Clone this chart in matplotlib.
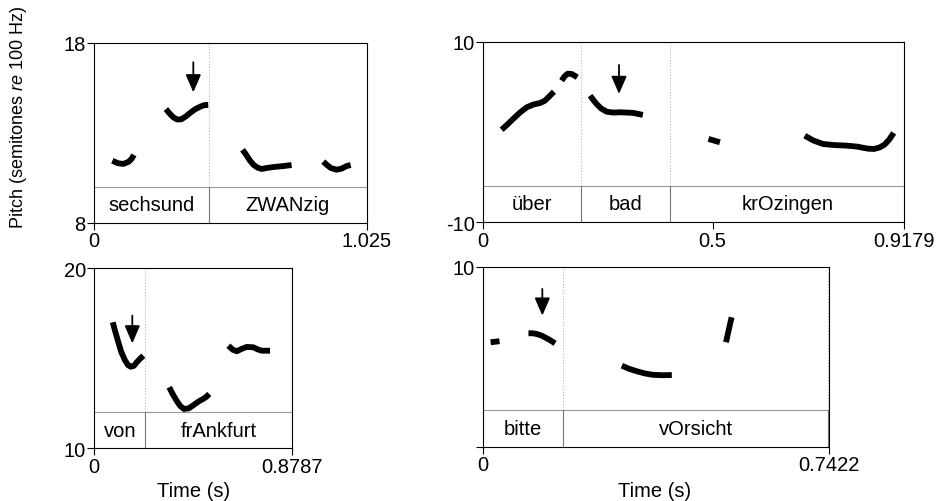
import matplotlib.pyplot as plt

plt.rcParams['font.family'] = ['Liberation Sans', 'DejaVu Sans']
plt.rcParams['mathtext.fontset'] = 'custom'
plt.rcParams['mathtext.rm'] = 'Liberation Sans'
plt.rcParams['mathtext.it'] = 'Liberation Sans:italic'

# panel 1: sechsund ZWANzig
p1_xmax = 1.025
p1_ylim = (8, 18)
p1_words = ['sechsund', 'ZWANzig']
p1_bounds = [0.432]
p1_t = [[0.069, 0.090, 0.110, 0.130, 0.142, 0.150],
        [0.270, 0.283, 0.297, 0.312, 0.328, 0.345, 0.362, 0.380, 0.400, 0.415, 0.429],
        [0.558, 0.572, 0.586, 0.600, 0.615, 0.630, 0.650, 0.680, 0.710, 0.742],
        [0.861, 0.875, 0.890, 0.911, 0.930, 0.948, 0.964]]
p1_f = [[11.46, 11.32, 11.28, 11.40, 11.58, 11.78],
        [14.33, 14.10, 13.88, 13.75, 13.76, 13.92, 14.13, 14.32, 14.47, 14.55, 14.56],
        [12.07, 11.78, 11.46, 11.22, 11.07, 11.00, 11.06, 11.12, 11.16, 11.22],
        [11.41, 11.22, 11.05, 10.96, 11.02, 11.16, 11.22]]
p1_arrow = (0.373, 16.93, 15.26)

# panel 2: über bad krOzingen
p2_xmax = 0.9179
p2_ylim = (-10, 10)
p2_words = ['über', 'bad', 'krOzingen']
p2_bounds = [0.2137, 0.4077]
p2_t = [[0.040, 0.052, 0.065, 0.080, 0.095, 0.110, 0.124, 0.134, 0.142, 0.154],
        [0.171, 0.177, 0.184, 0.193, 0.205],
        [0.233, 0.240, 0.247, 0.257, 0.269, 0.283, 0.298, 0.312, 0.327, 0.348],
        [0.491, 0.516],
        [0.701, 0.720, 0.741, 0.765, 0.792, 0.815, 0.839, 0.852, 0.864, 0.875, 0.885, 0.895]]
p2_f = [[0.25, 0.80, 1.44, 2.15, 2.74, 3.05, 3.21, 3.45, 3.84, 4.46],
        [5.68, 6.15, 6.45, 6.42, 6.06],
        [4.02, 3.55, 3.10, 2.60, 2.25, 2.15, 2.18, 2.15, 2.11, 1.89],
        [-0.77, -1.14],
        [-0.41, -0.95, -1.33, -1.45, -1.51, -1.62, -1.85, -1.88, -1.72, -1.40, -0.85, -0.10]]
p2_arrow = (0.296, 7.42, 4.21)

# panel 3: von frAnkfurt
p3_xmax = 0.8787
p3_ylim = (10, 20)
p3_words = ['von', 'frAnkfurt']
p3_bounds = [0.2267]
p3_t = [[0.082, 0.094, 0.107, 0.120, 0.136, 0.150, 0.162, 0.176, 0.189, 0.204, 0.218],
        [0.333, 0.350, 0.366, 0.382, 0.399, 0.420, 0.448, 0.466, 0.484, 0.498, 0.511],
        [0.596, 0.615, 0.633, 0.655, 0.677, 0.707, 0.725, 0.744, 0.781]]
p3_f = [[17.0, 16.45, 15.89, 15.35, 14.9, 14.62, 14.53, 14.58, 14.78, 14.98, 15.14],
        [13.39, 12.98, 12.64, 12.35, 12.18, 12.22, 12.46, 12.62, 12.74, 12.86, 13.02],
        [15.70, 15.48, 15.39, 15.52, 15.63, 15.61, 15.50, 15.42, 15.42]]
p3_arrow = (0.169, 17.37, 15.83)

# panel 4: bitte vOrsicht
p4_xmax = 0.7422
p4_ylim = (0, 10)
p4_words = ['bitte', 'vOrsicht']
p4_bounds = [0.1726, 0.7400]
p4_t = [[0.017, 0.036],
        [0.098, 0.107, 0.116, 0.125, 0.133, 0.144, 0.155],
        [0.298, 0.313, 0.330, 0.347, 0.365, 0.385, 0.405],
        [0.521, 0.533]]
p4_f = [[5.80, 5.86],
        [6.30, 6.30, 6.26, 6.18, 6.08, 5.92, 5.74],
        [4.50, 4.33, 4.19, 4.07, 3.99, 3.97, 3.98],
        [5.80, 7.19]]
p4_arrow = (0.1277, 8.76, 7.28)


def draw_panel(rect, xmax, ylim, words, bounds, ts, fs, arrow, xticks, ylabels,
               tier=0.2):
    ax = fig.add_axes(rect)
    ax.set_xlim(0, xmax)
    ax.set_ylim(*ylim)
    for t, f in zip(ts, fs):
        ax.plot(t, f, color='black', lw=4.2, solid_capstyle='butt',
                solid_joinstyle='round')
    tr = ax.get_xaxis_transform()
    ax.axhline(ylim[0] + tier * (ylim[1] - ylim[0]), color='#999999', lw=0.8)
    edges = [0] + bounds + [xmax]
    for b in bounds:
        ax.plot([b, b], [tier, 1], transform=tr, color='#aaaaaa', lw=0.7,
                ls=(0, (1, 2)))
        ax.plot([b, b], [0, tier], transform=tr, color='#777777', lw=0.8)
    for i, w in enumerate(words):
        ax.text((edges[i] + edges[i + 1]) / 2, tier / 2, w, transform=tr,
                ha='center', va='center', fontsize=14.5)
    ax.annotate('', xy=(arrow[0], arrow[2]), xytext=(arrow[0], arrow[1]),
                arrowprops=dict(arrowstyle='-|>,head_length=0.6,head_width=0.26',
                                color='black', lw=1.3, mutation_scale=18,
                                shrinkA=0, shrinkB=0))
    ax.set_xticks(xticks)
    ax.set_xticklabels([('%g' % x) if x != xmax else ('%s' % xmax) for x in xticks])
    ax.set_yticks(ylim)
    ax.set_yticklabels(ylabels)
    ax.tick_params(direction='out', length=5, width=0.8, labelsize=14.5, pad=1)
    for s in ax.spines.values():
        s.set_linewidth(0.8)
    return ax


fig = plt.figure(figsize=(9.38, 5.02), dpi=100)

draw_panel([0.1002, 0.5538, 0.2910, 0.3586], p1_xmax, p1_ylim, p1_words,
           p1_bounds, p1_t, p1_f, p1_arrow, [0, p1_xmax], ['8', '18'])
draw_panel([0.5152, 0.5552, 0.4488, 0.3598], p2_xmax, p2_ylim, p2_words,
           p2_bounds, p2_t, p2_f, p2_arrow, [0, 0.5, p2_xmax], ['-10', '10'],
           tier=0.203)
draw_panel([0.1005, 0.1050, 0.2108, 0.3586], p3_xmax, p3_ylim, p3_words,
           p3_bounds, p3_t, p3_f, p3_arrow, [0, p3_xmax], ['10', '20'])
draw_panel([0.5146, 0.1082, 0.3695, 0.3586], p4_xmax, p4_ylim, p4_words,
           p4_bounds, p4_t, p4_f, p4_arrow, [0, p4_xmax], ['', '10'],
           tier=0.206)

fig.text(0.206, 0.002, 'Time (s)', ha='center', va='bottom', fontsize=14.5)
fig.text(0.698, 0.002, 'Time (s)', ha='center', va='bottom', fontsize=14.5)
fig.text(0.020, 0.765, r'Pitch (semitones $\it{re}$ 100 Hz)', rotation=90,
         ha='center', va='center', fontsize=13)

fig.savefig('out.png', dpi=100)
